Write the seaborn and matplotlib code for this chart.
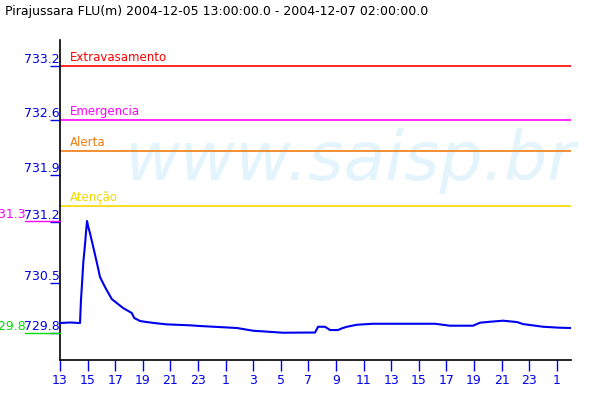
import matplotlib
matplotlib.use("Agg")
import matplotlib.pyplot as plt
import seaborn as sns
import pandas as pd
import numpy as np

# ---- data ----
title = "Pirajussara FLU(m) 2004-12-05 13:00:00.0 - 2004-12-07 02:00:00.0"

hours = [0.00, 0.72, 1.45, 1.52, 1.59, 1.69, 1.79, 1.88, 1.96, 2.05, 2.17, 2.41,
         2.66, 2.90, 3.26, 3.75, 4.11, 4.57, 5.20, 5.38, 5.80, 6.28, 7.01, 7.73,
         9.42, 10.14, 12.83, 13.99, 16.16, 18.48, 18.70, 19.20, 19.57, 20.14,
         20.43, 20.80, 21.52, 22.68, 27.17, 28.26, 29.93, 30.43, 31.16, 32.10,
         33.12, 33.55, 35.00, 36.23, 37.03]
levels = [729.934, 729.941, 729.934, 730.242, 730.443, 730.750, 730.938, 731.139,
          731.299, 731.219, 731.139, 730.951, 730.750, 730.550, 730.416, 730.255,
          730.202, 730.135, 730.068, 730.001, 729.961, 729.947, 729.930, 729.916,
          729.903, 729.894, 729.867, 729.831, 729.804, 729.807, 729.884, 729.884,
          729.840, 729.840, 729.863, 729.884, 729.911, 729.924, 729.924, 729.898,
          729.898, 729.938, 729.951, 729.965, 729.947, 729.920, 729.884, 729.871,
          729.867]

threshold_names = ["Extravasamento", "Emergencia", "Alerta", "Atenção"]
threshold_values = [733.374, 732.651, 732.236, 731.500]
threshold_colors = ["#ff0000", "#ff00ff", "#f07c10", "#f5d800"]

ytick_values = [729.800, 730.469, 731.286, 731.915, 732.651, 733.374]
ytick_labels = ["729.8", "730.5", "731.2", "731.9", "732.6", "733.2"]

xtick_hours = list(range(0, 37, 2))
xtick_labels = ["13", "15", "17", "19", "21", "23", "1", "3", "5", "7", "9",
                "11", "13", "15", "17", "19", "21", "23", "1"]

x_range = (0, 37.03)
y_range = (729.439, 733.722)

# ---- plot ----
sns.set_style("white")
plt.rcParams["font.family"] = ["DejaVu Sans"]

df = pd.DataFrame({"hora": hours, "nivel": levels})

fig = plt.figure(figsize=(6, 4), dpi=100)
ax = fig.add_axes([0.1, 0.1, 0.8517, 0.8])

ax.text(0.567, 0.5625, "www.saisp.br", transform=ax.transAxes, ha="center",
        va="baseline", fontsize=49, style="italic", color="#e3f4fc", zorder=0)

for name, val, col in zip(threshold_names, threshold_values, threshold_colors):
    ax.axhline(val, color=col, lw=1.2, zorder=2)
    ax.text(0.72, val + 0.03, name, color=col, fontsize=8.5, va="bottom",
            ha="left", zorder=3)

sns.lineplot(data=df, x="hora", y="nivel", ax=ax, color="#0000ee", lw=1.5,
             zorder=4)

ax.set_xlim(*x_range)
ax.set_ylim(*y_range)
ax.set_xlabel("")
ax.set_ylabel("")

ax.set_xticks(xtick_hours)
ax.set_xticklabels(xtick_labels)
ax.set_yticks(ytick_values)
ax.set_yticklabels(ytick_labels)
ax.tick_params(axis="x", bottom=True, direction="out", length=8, width=1,
               color="#0000ee", labelcolor="#0000ee", labelsize=9, pad=2)
ax.tick_params(axis="y", left=True, direction="out", length=7.5, width=1,
               color="#0000ee", labelcolor="#0000ee", labelsize=9, pad=-7.5)
for lab in ax.get_yticklabels():
    lab.set_verticalalignment("bottom")

for s in ["top", "right"]:
    ax.spines[s].set_visible(False)
for s in ["left", "bottom"]:
    ax.spines[s].set_color("black")
    ax.spines[s].set_linewidth(1.2)

# max / min markers
ytrans = ax.get_yaxis_transform()
vmax = max(levels)
vmin = min(levels)
for v, col in [(vmax, "#ff00ff"), (vmin, "#00dd00")]:
    ax.plot([-0.0685, 0], [v, v], color=col, lw=1, transform=ytrans,
            clip_on=False, zorder=5)
    ax.text(-0.068, v, f"{v:.1f}", color=col, fontsize=9, ha="right",
            va="bottom", transform=ytrans, clip_on=False)

fig.text(5 / 600, 1 - 11 / 400, title, fontsize=9, color="black",
         ha="left", va="center")

fig.savefig("out.png", dpi=100, facecolor="white")
